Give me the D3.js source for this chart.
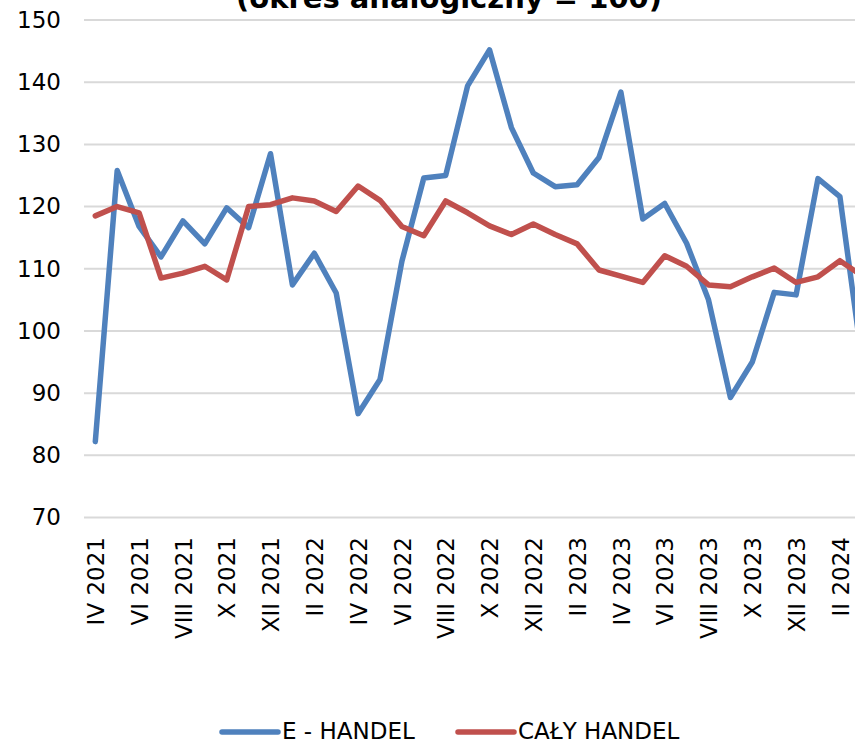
<!DOCTYPE html>
<html>
<head>
<meta charset="utf-8">
<script src="https://cdn.jsdelivr.net/npm/d3@7"></script>
<style>
  html, body { margin: 0; padding: 0; background: #fff; }
  svg { display: block; }
  text { font-family: "DejaVu Sans", Verdana, sans-serif; fill: #000; }
</style>
</head>
<body>
<div id="chart"></div>
<script>
const months = ["IV 2021","V 2021","VI 2021","VII 2021","VIII 2021","IX 2021","X 2021","XI 2021","XII 2021",
  "I 2022","II 2022","III 2022","IV 2022","V 2022","VI 2022","VII 2022","VIII 2022","IX 2022","X 2022","XI 2022","XII 2022",
  "I 2023","II 2023","III 2023","IV 2023","V 2023","VI 2023","VII 2023","VIII 2023","IX 2023","X 2023","XI 2023","XII 2023",
  "I 2024","II 2024","III 2024"];
const eHandel = [82.2,125.8,116.8,111.9,117.7,114.0,119.8,116.6,128.5,107.4,112.5,106.1,86.7,92.2,111.2,124.6,125.0,139.4,145.2,132.7,125.4,123.2,123.5,127.9,138.4,118.0,120.5,114.1,105.0,89.3,95.0,106.2,105.8,124.5,121.6,95.5];
const calyHandel = [118.5,120.0,119.0,108.5,109.3,110.4,108.2,120.0,120.3,121.4,120.9,119.2,123.3,121.0,116.8,115.3,120.9,119.0,116.9,115.5,117.2,115.5,114.0,109.8,108.8,107.8,112.1,110.4,107.4,107.1,108.7,110.1,107.8,108.7,111.3,108.9];
const yTicks = [70,80,90,100,110,120,130,140,150];
const titleText = "(okres analogiczny = 100)";
const seriesNames = ["E - HANDEL", "CAŁY HANDEL"];
const seriesColors = ["#4f81bd", "#c0504d"];

const W = 855, H = 739;
const svg = d3.select("#chart").append("svg").attr("width", W).attr("height", H);

const x = d3.scalePoint().domain(months).range([95.3, 95.3 + 35 * 21.9]);
const y = d3.scaleLinear().domain([70, 150]).range([517.5, 20]);

// title (partly cut off at top)
svg.append("text").attr("x", 449).attr("y", 8).attr("text-anchor", "middle")
  .style("font-weight", "bold").style("font-size", "29px").text(titleText);

// gridlines
svg.append("g").selectAll("line").data(yTicks).join("line")
  .attr("x1", 84).attr("x2", W + 20)
  .attr("y1", d => y(d)).attr("y2", d => y(d))
  .attr("stroke", "#d9d9d9").attr("stroke-width", 2);

// y axis labels
const yAxis = d3.axisLeft(y).tickValues(yTicks).tickSize(0).tickPadding(0);
const gy = svg.append("g").attr("transform", "translate(61,0)").call(yAxis);
gy.select(".domain").remove();
gy.selectAll("text").style("font-size", "23px").style("font-family", "\"DejaVu Sans\", Verdana, sans-serif").attr("fill", "#000");

// x axis labels
const xAxis = d3.axisBottom(x).tickValues(months.filter((d, i) => i % 2 === 0)).tickSize(0).tickPadding(0);
const gx = svg.append("g").attr("transform", "translate(0,537)").call(xAxis);
gx.select(".domain").remove();
gx.selectAll("text")
  .style("font-size", "23px").style("font-family", "\"DejaVu Sans\", Verdana, sans-serif").attr("fill", "#000")
  .attr("text-anchor", "end")
  .attr("transform", "rotate(-90)")
  .attr("x", 0).attr("y", 0).attr("dx", 0).attr("dy", "0.36em");

// lines
const line = d3.line().x((d, i) => x(months[i])).y(d => y(d));
[eHandel, calyHandel].forEach((s, k) => {
  svg.append("path").datum(s).attr("d", line)
    .attr("fill", "none").attr("stroke", seriesColors[k]).attr("stroke-width", 5.5)
    .attr("stroke-linejoin", "round").attr("stroke-linecap", "round");
});

// legend
const legendX = [222, 458];
const lg = svg.append("g");
seriesNames.forEach((n, k) => {
  lg.append("line").attr("x1", legendX[k]).attr("x2", legendX[k] + 56)
    .attr("y1", 732).attr("y2", 732)
    .attr("stroke", seriesColors[k]).attr("stroke-width", 5.5).attr("stroke-linecap", "round");
  lg.append("text").attr("x", legendX[k] + 60).attr("y", 738.5)
    .style("font-size", "23px").text(n);
});
</script>
</body>
</html>
